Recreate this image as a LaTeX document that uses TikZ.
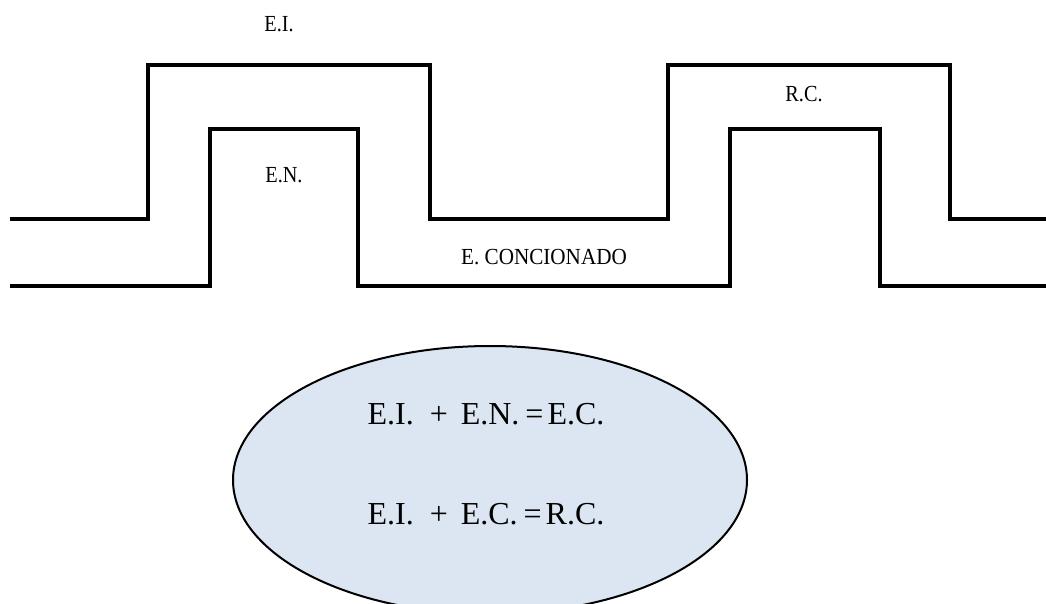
\documentclass[tikz,border=0pt]{standalone}
\usepackage{fontspec}
\setmainfont{Liberation Serif}
\newfontfamily\labfont[FakeStretch=0.88]{Liberation Serif}
\newfontfamily\widelabfont[FakeStretch=0.92]{Liberation Serif}
\usetikzlibrary{shapes.geometric}
\definecolor{ellfill}{RGB}{220,230,242}
\tikzset{
  wall/.style={line width=4pt, line join=miter, line cap=butt},
  lab/.style={inner sep=0pt, font=\labfont\fontsize{23}{27}\selectfont},
  eq/.style={inner sep=0pt, font=\fontsize{32}{38}\selectfont}
}
\begin{document}
\begin{tikzpicture}[x=1pt,y=-1pt]
\useasboundingbox (0,0) rectangle (1046,603);
\begin{scope}
\clip (0,0) rectangle (1046,603);
\draw[wall] (10,219) -- (148,219) -- (148,65) -- (430,65) -- (430,219) -- (668,219) -- (668,65) -- (950,65) -- (950,219) -- (1046,219);
\draw[wall] (10,286) -- (210,286) -- (210,129) -- (358,129) -- (358,286) -- (730,286) -- (730,129) -- (880,129) -- (880,286) -- (1046,286);
\node[ellipse, draw, line width=2pt, fill=ellfill, minimum width=514pt, minimum height=268pt, inner sep=0pt] (ell) at (490,480) {};
\end{scope}
\node[lab] (ei) at (279,24) {E.I.};
\node[lab] (en) at (284,175) {E.N.};
\node[lab] (rc) at (804,94) {R.C.};
\node[lab, font=\widelabfont\fontsize{23}{27}\selectfont] (ec) at (544,257) {E. CONCIONADO};
\node[eq] (eq1) at (486,414.5) {E.I.\hspace{16pt}+\hspace{13pt}E.N.\hspace{6pt}=\hspace{4pt}E.C.};
\node[eq] (eq2) at (486,514.5) {E.I.\hspace{16pt}+\hspace{13pt}E.C.\hspace{6pt}=\hspace{4pt}R.C.};
\end{tikzpicture}
\end{document}
